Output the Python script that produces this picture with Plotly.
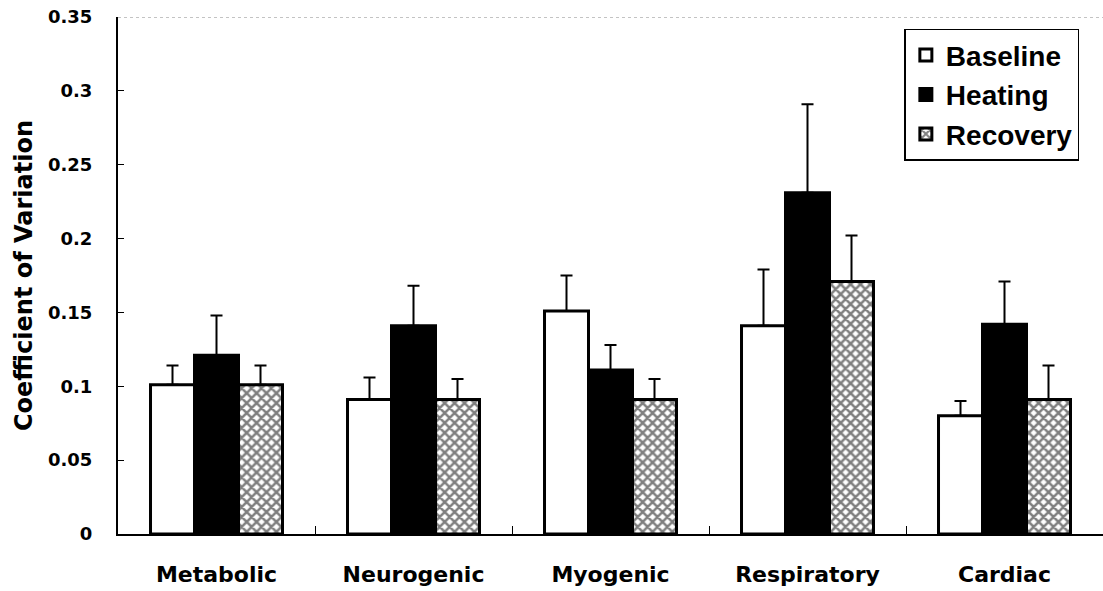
import plotly.graph_objects as go

categories = ["Metabolic", "Neurogenic", "Myogenic", "Respiratory", "Cardiac"]
baseline = [0.101, 0.091, 0.151, 0.141, 0.080]
baseline_err = [0.013, 0.015, 0.024, 0.038, 0.010]
heating = [0.121, 0.141, 0.111, 0.231, 0.142]
heating_err = [0.027, 0.027, 0.017, 0.060, 0.029]
recovery = [0.101, 0.091, 0.091, 0.171, 0.091]
recovery_err = [0.013, 0.014, 0.014, 0.031, 0.023]
y_ticks = [0, 0.05, 0.1, 0.15, 0.2, 0.25, 0.3, 0.35]
y_tick_labels = ["0", "0.05", "0.1", "0.15", "0.2", "0.25", "0.3", "0.35"]

WIDE = "DejaVu Sans, Verdana, sans-serif"
ARIAL = "Liberation Sans, Arial, sans-serif"

def err(vals):
    return dict(type="data", array=vals, arrayminus=[0] * len(vals), symmetric=False,
                color="black", thickness=2, width=6, visible=True)

fig = go.Figure()
fig.add_trace(go.Bar(name="Baseline", x=categories, y=baseline, error_y=err(baseline_err),
                     marker=dict(color="white", line=dict(color="black", width=3)),
                     legendgroup="a"))
fig.add_trace(go.Bar(name="Heating", x=categories, y=heating, error_y=err(heating_err),
                     marker=dict(color="black", line=dict(color="black", width=3)),
                     legendgroup="b"))
fig.add_trace(go.Bar(name="Recovery", x=categories, y=recovery, error_y=err(recovery_err),
                     marker=dict(color="white", line=dict(color="black", width=3),
                                 pattern=dict(shape="x", fgcolor="black", bgcolor="white",
                                              size=7, solidity=0.6)),
                     legendgroup="c"))

fig.add_shape(type="line", xref="paper", yref="y", x0=0, x1=1, y0=0.35, y1=0.35,
              line=dict(color="#888888", width=1, dash="dot"))

fig.update_layout(
    width=1103, height=591,
    margin=dict(l=118, r=0, t=17, b=57),
    paper_bgcolor="white", plot_bgcolor="white",
    barmode="group", bargap=0.33, bargroupgap=0,
    font=dict(family=ARIAL, color="black"),
    showlegend=True,
    legend=dict(x=0.976, y=0.977, xanchor="right", yanchor="top",
                bordercolor="black", borderwidth=1.5, bgcolor="white",
                font=dict(family=ARIAL, size=28, color="black", weight="bold"),
                tracegroupgap=9, traceorder="normal"),
    xaxis=dict(showline=True, linecolor="black", linewidth=2, ticks="inside",
               tickson="boundaries", ticklen=8, tickcolor="black", tickwidth=1,
               tickfont=dict(family=WIDE, size=22, weight="bold", color="black"),
               ticklabelstandoff=20, showgrid=False),
    yaxis=dict(range=[0, 0.35], tickvals=y_ticks, ticktext=y_tick_labels,
               showline=True, linecolor="black", linewidth=2, ticks="inside",
               ticklen=6, tickcolor="black", tickwidth=1, showgrid=False, zeroline=False,
               tickfont=dict(family=WIDE, size=18, weight="bold", color="black"),
               ticklabelstandoff=20,
               title=dict(text="Coefficient of Variation", standoff=9,
                          font=dict(family=WIDE, size=24, weight="bold", color="black"))),
)

fig.write_html("out.html")
